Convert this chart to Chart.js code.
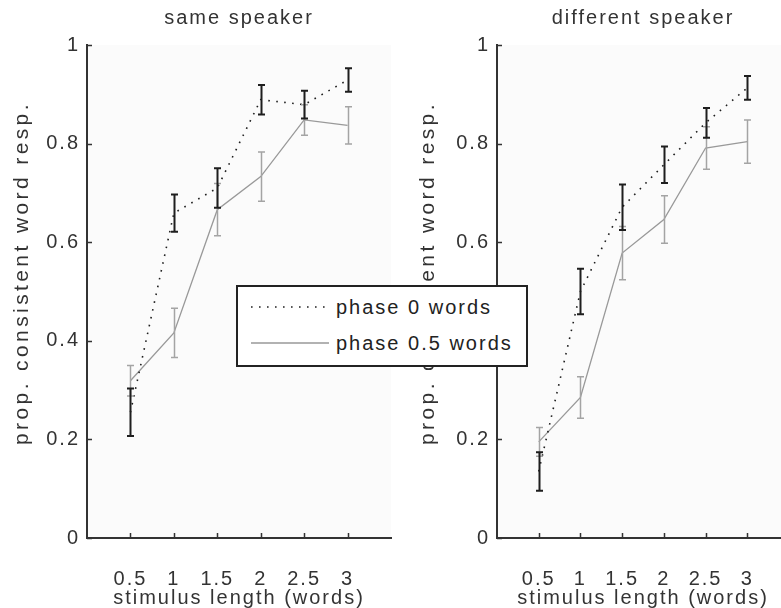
<!DOCTYPE html>
<html>
<head>
<meta charset="utf-8">
<script src="https://cdn.jsdelivr.net/npm/chart.js@4.4.1/dist/chart.umd.min.js"></script>
<style>
  html, body { margin: 0; padding: 0; background: #fff; width: 781px; height: 608px; overflow: hidden; }
  .panel { position: absolute; top: 0; }
  #legend {
    position: absolute; left: 236px; top: 285px; width: 288px; height: 78px;
    border: 2px solid #222; background: #fff;
    font: 20px "Liberation Sans", Arial, sans-serif; letter-spacing: 2px; color: #222;
  }
  #legend .row { position: absolute; left: 0; height: 24px; display: flex; align-items: center; }
  #legend svg { margin-left: 13px; margin-right: 7px; }
</style>
</head>
<body>
<canvas id="same" class="panel" width="400" height="608" style="left:0"></canvas>
<canvas id="diff" class="panel" width="400" height="608" style="left:400px"></canvas>
<div id="legend">
  <div class="row" style="top:8px">
    <svg width="78" height="4"><line x1="0" y1="2" x2="78" y2="2" stroke="#222" stroke-width="1.6" stroke-dasharray="1.6 6.4"/></svg>
    <span>phase 0 words</span>
  </div>
  <div class="row" style="top:44px">
    <svg width="78" height="4"><line x1="0" y1="2" x2="78" y2="2" stroke="#999" stroke-width="1.5"/></svg>
    <span>phase 0.5 words</span>
  </div>
</div>
<script>
// stimulus lengths (words)
const xVals = [0.5, 1, 1.5, 2, 2.5, 3];

// same speaker
const samePhase0 = [0.255, 0.659, 0.71, 0.889, 0.879, 0.929];
const samePhase0Err = [0.048, 0.038, 0.04, 0.03, 0.028, 0.024];
const samePhase5 = [0.319, 0.416, 0.666, 0.733, 0.848, 0.837];
const samePhase5Err = [0.031, 0.05, 0.053, 0.05, 0.031, 0.038];

// different speaker
const diffPhase0 = [0.135, 0.50, 0.671, 0.757, 0.842, 0.913];
const diffPhase0Err = [0.039, 0.046, 0.046, 0.037, 0.03, 0.024];
const diffPhase5 = [0.195, 0.285, 0.578, 0.646, 0.791, 0.804];
const diffPhase5Err = [0.029, 0.042, 0.054, 0.048, 0.043, 0.044];

const FONT = '"Liberation Sans", Arial, sans-serif';
const TEXT = '#333';
const AXIS = '#333';

Chart.defaults.font.family = FONT;
Chart.defaults.font.size = 20;
Chart.defaults.color = TEXT;

// MATLAB bitmap text is widely spaced; the rotated y label even more
const spacingPlugin = {
    id: 'spacing',
    beforeInit(chart) {
        const ctx = chart.ctx;
        const fill = ctx.fillText.bind(ctx);
        ctx.fillText = function (t, x, y, mw) {
            ctx.letterSpacing = ctx.font.indexOf('21px') >= 0 ? '3.4px' : '2px';
            return fill(t, x, y, mw);
        };
    }
};

const bgPlugin = {
    id: 'plotBg',
    beforeDraw(chart) {
        const { ctx, chartArea: a } = chart;
        ctx.save();
        ctx.fillStyle = '#fbfbfb';
        ctx.fillRect(a.left, a.top, a.right - a.left, a.bottom - a.top);
        ctx.restore();
    }
};

// MATLAB ticks point into the axes
const tickPlugin = {
    id: 'inTicks',
    afterDraw(chart) {
        const { ctx, chartArea: a, scales: { x, y } } = chart;
        ctx.save();
        ctx.strokeStyle = AXIS;
        ctx.lineWidth = 1.5;
        ctx.beginPath();
        y.ticks.forEach(t => {
            const py = Math.round(y.getPixelForValue(t.value)) + 0.5;
            ctx.moveTo(a.left, py);
            ctx.lineTo(a.left + 5, py);
        });
        x.ticks.forEach(t => {
            const px = Math.round(x.getPixelForValue(t.value)) + 0.5;
            ctx.moveTo(px, a.bottom);
            ctx.lineTo(px, a.bottom - 5);
        });
        ctx.stroke();
        ctx.restore();
    }
};

const errPlugin = {
    id: 'errBars',
    afterDatasetsDraw(chart) {
        const { ctx, scales: { x, y } } = chart;
        const sets = chart.data.datasets;
        ctx.save();
        for (let i = sets.length - 1; i >= 0; i--) {
            const ds = sets[i];
            ctx.strokeStyle = ds.errColor;
            ctx.lineWidth = ds.errWidth;
            ctx.beginPath();
            ds.data.forEach((p, j) => {
                const px = Math.round(x.getPixelForValue(p.x)) + 0.5;
                const top = y.getPixelForValue(p.y + ds.errs[j]);
                const bot = y.getPixelForValue(p.y - ds.errs[j]);
                ctx.moveTo(px, top);
                ctx.lineTo(px, bot);
                ctx.moveTo(px - 3.5, top);
                ctx.lineTo(px + 3.5, top);
                ctx.moveTo(px - 3.5, bot);
                ctx.lineTo(px + 3.5, bot);
            });
            ctx.stroke();
        }
        ctx.restore();
    }
};

function pts(vals) {
    return xVals.map((x, i) => ({ x: x, y: vals[i] }));
}

function makePanel(id, title, p0, p0Err, p5, p5Err, yWidth, yTitlePad, rightPad) {
    return new Chart(document.getElementById(id), {
        type: 'line',
        data: {
            datasets: [{
                label: 'phase 0 words',
                data: pts(p0),
                errs: p0Err,
                errColor: '#1e1e1e',
                errWidth: 2,
                borderColor: '#1e1e1e',
                borderWidth: 1.6,
                borderDash: [1.6, 6.4],
                pointRadius: 0,
                tension: 0
            }, {
                label: 'phase 0.5 words',
                data: pts(p5),
                errs: p5Err,
                errColor: '#a4a4a4',
                errWidth: 1.5,
                borderColor: '#999',
                borderWidth: 1.3,
                pointRadius: 0,
                tension: 0
            }]
        },
        options: {
            responsive: false,
            animation: false,
            devicePixelRatio: 1,
            layout: { padding: { top: 0, right: rightPad, bottom: 0, left: 0 } },
            plugins: {
                legend: { display: false },
                tooltip: { enabled: false },
                title: {
                    display: true,
                    text: title,
                    fullSize: false,
                    color: TEXT,
                    font: { size: 20, weight: 'normal', lineHeight: 1.2 },
                    padding: { top: 6, bottom: 15 }
                }
            },
            scales: {
                x: {
                    type: 'linear',
                    min: 0,
                    max: 3.5,
                    afterBuildTicks: s => { s.ticks = xVals.map(v => ({ value: v })); },
                    afterFit: s => { s.height = 70; },
                    grid: { display: false, drawTicks: false },
                    border: { display: true, color: AXIS, width: 2 },
                    ticks: { padding: 29, color: TEXT, maxRotation: 0, callback: v => String(v) },
                    title: {
                        display: true, text: 'stimulus length (words)', color: TEXT,
                        font: { size: 20, lineHeight: 1 }, padding: { top: 0, bottom: 0 }
                    }
                },
                y: {
                    min: 0,
                    max: 1,
                    afterFit: s => { s.width = yWidth; },
                    grid: { display: false, drawTicks: false },
                    border: { display: true, color: AXIS, width: 2 },
                    ticks: { stepSize: 0.2, padding: 7, color: TEXT, callback: v => String(Math.round(v * 10) / 10) },
                    title: {
                        // leading blanks nudge the label up like the original
                        display: true, text: '    prop. consistent word resp.', color: TEXT,
                        font: { size: 21, lineHeight: 1.2 }, padding: { top: yTitlePad, bottom: 0 }
                    }
                }
            }
        },
        plugins: [spacingPlugin, bgPlugin, errPlugin, tickPlugin]
    });
}

makePanel('same', 'same speaker', samePhase0, samePhase0Err, samePhase5, samePhase5Err, 87, 9.4, 9);
makePanel('diff', 'different speaker', diffPhase0, diffPhase0Err, diffPhase5, diffPhase5Err, 97, 15.4, 11);
</script>
</body>
</html>
